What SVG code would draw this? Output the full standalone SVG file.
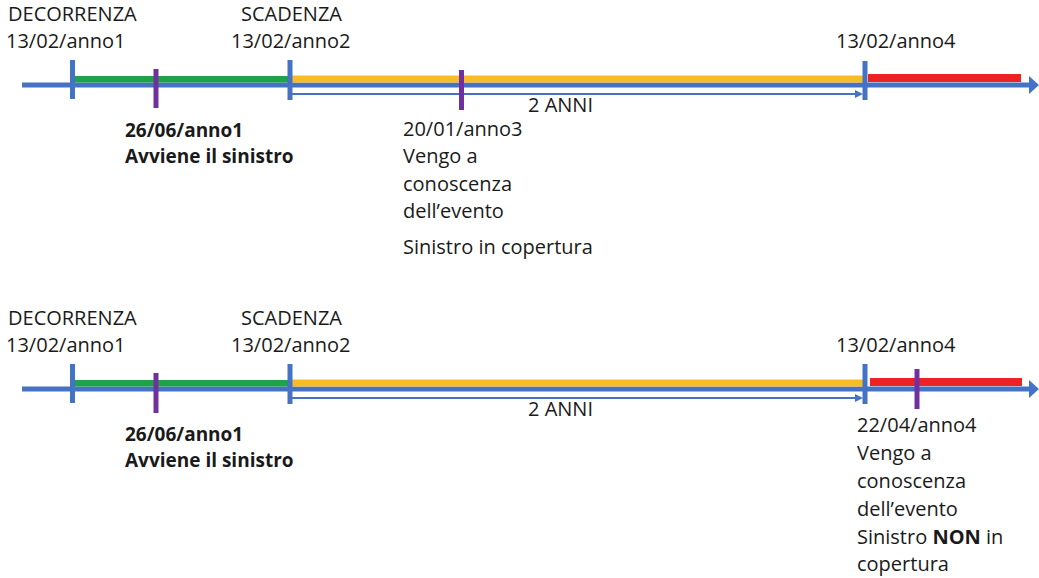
<svg xmlns="http://www.w3.org/2000/svg" width="1039" height="578" viewBox="0 0 1039 578">
<style>
.t{font-family:"Open Sans","Liberation Sans",Arial,sans-serif;font-size:20px;fill:#1a1a1a}
.b{font-weight:bold;font-size:19px}
.axis{stroke:#4472C4;stroke-width:5;fill:none}
.tick{stroke:#4472C4;stroke-width:5}
.ev{stroke:#7030A0;stroke-width:5}
.thin{stroke:#4472C4;stroke-width:2;fill:none}
.ah{fill:#4472C4}
</style>
<rect width="1039" height="578" fill="#ffffff"/>
<g id="timeline1">
  <g id="connectors1">
    <line class="axis" x1="22" y1="85" x2="1030" y2="85"/>
    <polygon class="ah" points="1029,76 1039,85 1029,94"/>
    <line class="thin" x1="291" y1="94" x2="858" y2="94"/>
    <polygon class="ah" points="855,90 863,94 855,98"/>
  </g>
  <rect x="75" y="76" width="215" height="6.5" fill="#1FA24A"/>
  <rect x="292" y="75.5" width="572" height="7" fill="#F6BD27"/>
  <rect x="868" y="74" width="153" height="8" fill="#ED2224"/>
  <line class="tick" x1="72.5" y1="60" x2="72.5" y2="99"/>
  <line class="tick" x1="290" y1="60" x2="290" y2="100"/>
  <line class="tick" x1="865" y1="61" x2="865" y2="100"/>
  <line class="ev" x1="156" y1="69" x2="156" y2="108"/>
  <line class="ev" x1="461.5" y1="70" x2="461.5" y2="110"/>
  <g id="decorrenza1"><text class="t" x="8" y="21">DECORRENZA</text><text class="t" x="6" y="48">13/02/anno1</text></g>
  <g id="scadenza1"><text class="t" x="241" y="21">SCADENZA</text><text class="t" x="231" y="48">13/02/anno2</text></g>
  <g id="anno4_1"><text class="t" x="836" y="48">13/02/anno4</text></g>
  <g id="sinistro1"><text class="t b" x="125" y="137">26/06/anno1</text><text class="t b" x="125" y="163">Avviene il sinistro</text></g>
  <text class="t" x="528" y="112">2 ANNI</text>
  <g id="conoscenza1">
    <text class="t" x="403" y="136">20/01/anno3</text>
    <text class="t" x="403" y="163">Vengo a</text>
    <text class="t" x="403" y="191">conoscenza</text>
    <text class="t" x="403" y="218">dell’evento</text>
    <text class="t" x="403" y="254">Sinistro in copertura</text>
  </g>
</g>
<g id="timeline2">
  <g id="connectors2">
    <line class="axis" x1="22" y1="389" x2="1030" y2="389"/>
    <polygon class="ah" points="1029,380 1039,389 1029,398"/>
    <line class="thin" x1="291" y1="398" x2="858" y2="398"/>
    <polygon class="ah" points="855,394 863,398 855,402"/>
  </g>
  <rect x="75" y="380" width="215" height="6.5" fill="#1FA24A"/>
  <rect x="292" y="379.5" width="572" height="7" fill="#F6BD27"/>
  <rect x="870" y="378" width="152" height="8" fill="#ED2224"/>
  <line class="tick" x1="72.5" y1="364" x2="72.5" y2="403"/>
  <line class="tick" x1="290" y1="364" x2="290" y2="404"/>
  <line class="tick" x1="865" y1="364" x2="865" y2="404"/>
  <line class="ev" x1="156" y1="373" x2="156" y2="413"/>
  <line class="ev" x1="917" y1="369" x2="917" y2="409"/>
  <g id="decorrenza2"><text class="t" x="8" y="325">DECORRENZA</text><text class="t" x="6" y="352">13/02/anno1</text></g>
  <g id="scadenza2"><text class="t" x="241" y="325">SCADENZA</text><text class="t" x="231" y="352">13/02/anno2</text></g>
  <g id="anno4_2"><text class="t" x="836" y="352">13/02/anno4</text></g>
  <g id="sinistro2"><text class="t b" x="125" y="441">26/06/anno1</text><text class="t b" x="125" y="467">Avviene il sinistro</text></g>
  <text class="t" x="528" y="416">2 ANNI</text>
  <g id="conoscenza2">
    <text class="t" x="857" y="432">22/04/anno4</text>
    <text class="t" x="857" y="460">Vengo a</text>
    <text class="t" x="857" y="488">conoscenza</text>
    <text class="t" x="857" y="516">dell’evento</text>
    <text class="t" x="857" y="544">Sinistro <tspan style="font-weight:bold">NON</tspan> in</text>
    <text class="t" x="857" y="571">copertura</text>
  </g>
</g>
</svg>
